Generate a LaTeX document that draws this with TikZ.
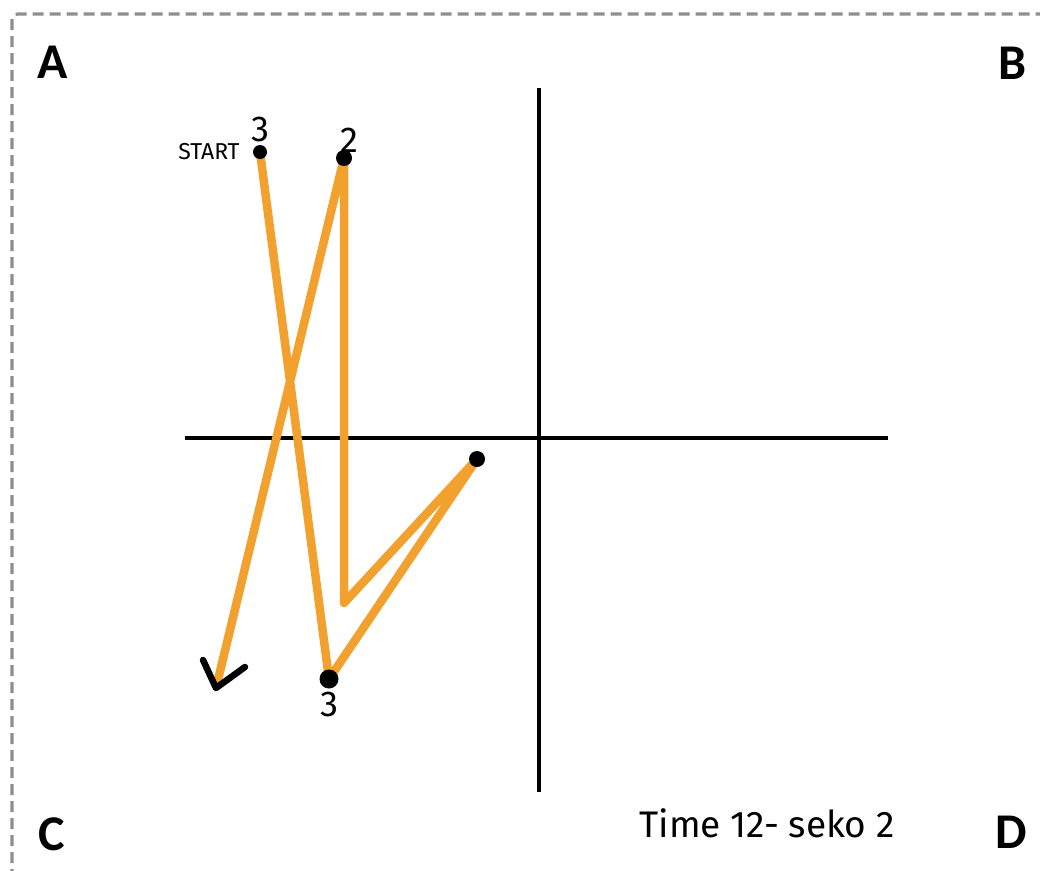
\documentclass[tikz,border=0pt]{standalone}
\usepackage{fontspec}
\setsansfont{Carlito}
\newfontfamily\handfont{Fira Sans}
\usepackage{xcolor}
\usetikzlibrary{positioning}

\definecolor{trackorange}{HTML}{F2A12E}
\definecolor{framegray}{HTML}{8E8E8E}

\begin{document}
\begin{tikzpicture}[
  x=1pt, y=-1pt,
  frame/.style={draw=framegray, line width=3.2pt, dash pattern=on 11pt off 6pt, rounded corners=6pt},
  axis/.style={draw=black, line width=4.6pt},
  track/.style={draw=trackorange, line width=8.5pt, line join=round},
  dot/.style={circle, fill=black, inner sep=0pt, minimum size=15pt},
  corner/.style={font=\sffamily\bfseries\fontsize{50}{50}\selectfont, inner sep=0pt},
  hand/.style={font=\handfont\fontsize{36}{36}\selectfont, inner sep=0pt},
  chev/.style={draw=black, line width=6.5pt, line cap=round, line join=round}
]
\useasboundingbox (0,0) rectangle (1040,870);
\draw[frame] (12,880) -- (12,14) -- (1050,14);

\node[corner] (a) at (53,62) {A};
\node[corner] (b) at (1012,63) {B};
\node[corner] (c) at (52,834) {C};
\node[corner] (d) at (1011,832) {D};

\coordinate (xl) at (185,438);
\coordinate (xr) at (888,438);
\coordinate (yt) at (539,88);
\coordinate (yb) at (539,792);
\draw[axis] (xl) -- (xr);
\draw[axis] (yt) -- (yb);

\coordinate (s) at (260,152);
\coordinate (q3) at (329,679);
\coordinate (q4) at (477,459);
\coordinate (bend) at (344,603);
\coordinate (q2) at (344,158);
\coordinate (tip) at (216,688);

\draw[track] (s) -- (q3) -- (q4) -- (bend) -- (q2) -- (tip);
\draw[chev] (tip) ++(-13,-28) -- (tip) -- ++(29,-21);

\node[dot, minimum size=14pt] (start) at (s) {};
\node[dot, minimum size=16pt] (two) at (q2) {};
\node[dot, minimum size=16pt] (four) at (q4) {};
\node[dot, minimum size=19pt] (three) at (q3) {};

\node[hand, above=3pt of start] (lbl3) {3};
\node[hand, font=\handfont\fontsize{23}{23}\selectfont, left=13pt of start] (lblstart) {START};
\node[hand, above=-3pt of two, xshift=5pt] (lbl2) {2};
\node[hand, below=3pt of three] (lbl3b) {3};

\node[hand, font=\handfont\fontsize{37}{37}\selectfont] (time) at (767,823) {Time 12- seko 2};
\end{tikzpicture}
\end{document}
